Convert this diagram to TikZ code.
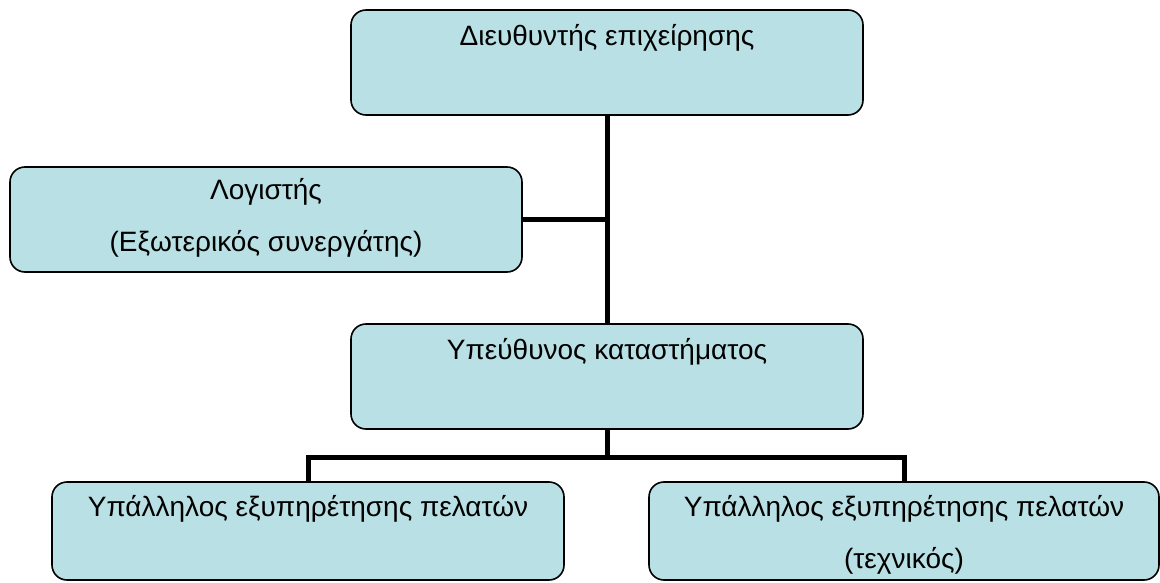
\documentclass[tikz,border=0pt]{standalone}
\usepackage{fontspec}
\setmainfont{Liberation Sans}
\begin{document}
\begin{tikzpicture}[x=1pt,y=-1pt,
  orgbox/.style={draw=black, line width=1.6pt, fill=boxfill, rounded corners=15pt, inner sep=0pt},
  lbl/.style={font=\fontsize{28}{32}\selectfont, inner sep=0pt, anchor=center},
  conn/.style={line width=5pt, draw=black}]
\definecolor{boxfill}{HTML}{B9E0E4}
\useasboundingbox (0,0) rectangle (1160,583);
\fill[white] (0,0) rectangle (1160,583);
% boxes
\node[orgbox, minimum width=512pt, minimum height=105pt] (top) at (607,62.5) {};
\node[orgbox, minimum width=512pt, minimum height=105pt] (log) at (266,219.5) {};
\node[orgbox, minimum width=512pt, minimum height=105pt] (mid) at (607,376.5) {};
\node[orgbox, minimum width=512pt, minimum height=98pt] (left) at (308,531) {};
\node[orgbox, minimum width=510pt, minimum height=98pt] (right) at (904,531) {};
% texts
\node[lbl] (topT) at ([yshift=-29pt]top.north) {Διευθυντής επιχείρησης};
\node[lbl] (logT1) at ([yshift=-26pt]log.north) {Λογιστής};
\node[lbl] (logT2) at ([yshift=-78pt]log.north) {(Εξωτερικός συνεργάτης)};
\node[lbl] (midT) at ([yshift=-29pt]mid.north) {Υπεύθυνος καταστήματος};
\node[lbl] (leftT) at ([yshift=-28pt]left.north) {Υπάλληλος εξυπηρέτησης πελατών};
\node[lbl] (rightT1) at ([yshift=-28pt]right.north) {Υπάλληλος εξυπηρέτησης πελατών};
\node[lbl] (rightT2) at ([yshift=-80pt]right.north) {(τεχνικός)};
% connectors
\coordinate (bus) at (607,457);
\draw[conn] (top.south) -- (mid.north);
\draw[conn] (log.east) -- (log.east -| top.south);
\draw[conn] (mid.south) -- (bus);
\draw[conn] (left.north) |- (bus) -| (right.north);
\end{tikzpicture}
\end{document}
